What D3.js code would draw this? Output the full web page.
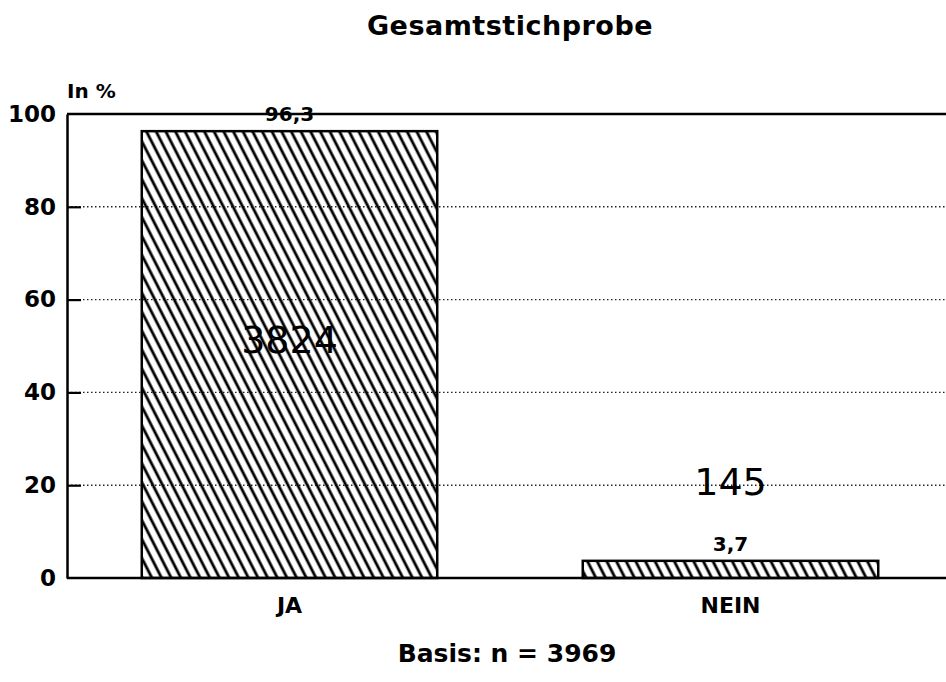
<!DOCTYPE html>
<html>
<head>
  <script src="https://d3js.org/d3.v7.min.js"></script>
  <style>
    body { margin: 0; background: #fff; }
    text { font-family: "DejaVu Sans", "Liberation Sans", Arial, sans-serif; fill: #000; }
  </style>
</head>
<body>
  <div id="viz"></div>
  <script>
  // chart data
  var categories = ["JA", "NEIN"];
  var percents = [96.3, 3.7];
  var percentLabels = ["96,3", "3,7"];
  var counts = [3824, 145];
  var yTicks = [0, 20, 40, 60, 80, 100];

  var W = 946, H = 682;
  var svg = d3.select("#viz").append("svg")
      .attr("width", W)
      .attr("height", H);

  // plot box (note: "top" is reserved on window, so use other names)
  var plotL = 67, plotR = 946, plotT = 114, plotB = 578;

  var x = d3.scaleBand()
      .domain(categories)
      .range([69, 951])
      .paddingInner(0.33)
      .paddingOuter(0.165);

  var y = d3.scaleLinear()
      .domain([0, 100])
      .range([plotB, plotT]);

  // hatch pattern, lines leaning like "\"
  var defs = svg.append("defs");
  defs.append("pattern")
      .attr("id", "hatch")
      .attr("patternUnits", "userSpaceOnUse")
      .attr("width", 8.6)
      .attr("height", 20)
      .attr("patternTransform", "rotate(-27)")
    .append("line")
      .attr("x1", 2).attr("y1", -5)
      .attr("x2", 2).attr("y2", 25)
      .attr("stroke", "#000")
      .attr("stroke-width", 2.8);

  // dotted grid lines
  svg.append("g")
    .selectAll("line")
    .data(yTicks.filter(function(d){ return d > 0 && d < 100; }))
    .join("line")
      .attr("x1", plotL).attr("x2", plotR)
      .attr("y1", function(d){ return y(d); })
      .attr("y2", function(d){ return y(d); })
      .attr("stroke", "#222")
      .attr("stroke-width", 1.4)
      .attr("stroke-dasharray", "1.5,2.5");

  // top border line
  svg.append("line")
      .attr("x1", plotL).attr("x2", plotR)
      .attr("y1", y(100)).attr("y2", y(100))
      .attr("stroke", "#000").attr("stroke-width", 2.5);

  // bars
  svg.append("g")
    .selectAll("rect")
    .data(categories)
    .join("rect")
      .attr("x", function(d){ return x(d); })
      .attr("width", x.bandwidth())
      .attr("y", function(d, i){ return y(percents[i]); })
      .attr("height", function(d, i){ return y(0) - y(percents[i]); })
      .attr("fill", "url(#hatch)")
      .attr("stroke", "#000")
      .attr("stroke-width", 2.5);

  // y axis
  var yAxis = d3.axisLeft(y).tickValues(yTicks).tickSize(0).tickPadding(11);
  var gy = svg.append("g")
      .attr("transform", "translate(" + plotL + ",0)")
      .call(yAxis);
  gy.select(".domain").attr("stroke", "#000").attr("stroke-width", 2.5);
  gy.selectAll(".tick text")
      .style("font-size", "23px")
      .style("font-weight", "bold");
  // short inner tick marks
  gy.selectAll(".tick").filter(function(d){ return d > 0 && d < 100; })
    .append("line")
      .attr("x1", 0).attr("x2", 14)
      .attr("stroke", "#000").attr("stroke-width", 2.2);

  // x axis
  var xAxis = d3.axisBottom(x).tickSize(0).tickPadding(19);
  var gx = svg.append("g")
      .attr("transform", "translate(0," + plotB + ")")
      .call(xAxis);
  gx.select(".domain").remove();
  gx.append("line")
      .attr("x1", plotL).attr("x2", plotR)
      .attr("stroke", "#000").attr("stroke-width", 2.5);
  gx.selectAll(".tick text")
      .style("font-size", "22px")
      .style("font-weight", "bold");

  // percent labels
  svg.append("g")
    .selectAll("text")
    .data(categories)
    .join("text")
      .attr("x", function(d){ return x(d) + x.bandwidth() / 2; })
      .attr("y", function(d, i){ return y(percents[i]) - 10; })
      .attr("text-anchor", "middle")
      .style("font-size", "20px")
      .style("font-weight", "bold")
      .text(function(d, i){ return percentLabels[i]; });

  // count labels
  var countBaseline = [353, 495];
  svg.append("g")
    .selectAll("text")
    .data(categories)
    .join("text")
      .attr("x", function(d){ return x(d) + x.bandwidth() / 2; })
      .attr("y", function(d, i){ return countBaseline[i]; })
      .attr("text-anchor", "middle")
      .style("font-size", "38px")
      .text(function(d, i){ return counts[i]; });

  // titles
  svg.append("text")
      .attr("x", 510).attr("y", 35)
      .attr("text-anchor", "middle")
      .style("font-size", "27px").style("font-weight", "bold")
      .style("letter-spacing", "0.5px")
      .text("Gesamtstichprobe");

  svg.append("text")
      .attr("x", 67).attr("y", 98)
      .style("font-size", "20px").style("font-weight", "bold")
      .text("In %");

  svg.append("text")
      .attr("x", 507).attr("y", 662)
      .attr("text-anchor", "middle")
      .style("font-size", "25px").style("font-weight", "bold")
      .text("Basis: n = 3969");
  </script>
</body>
</html>
